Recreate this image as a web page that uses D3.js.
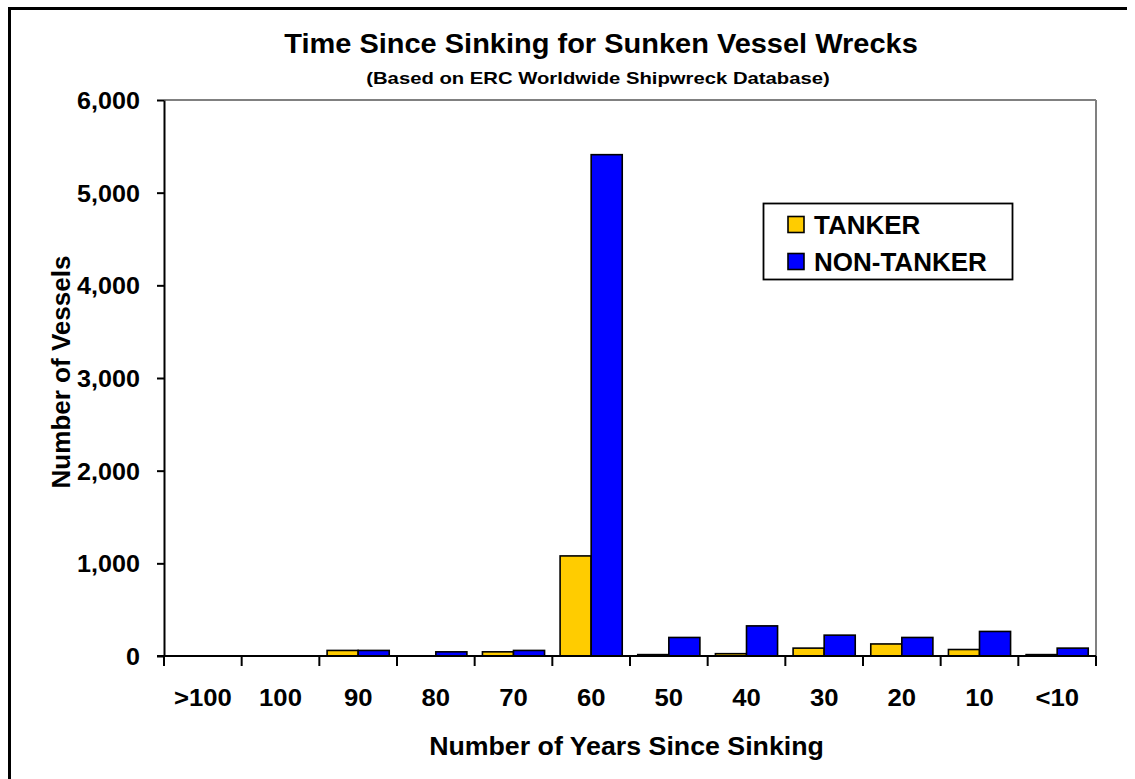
<!DOCTYPE html>
<html><head><meta charset="utf-8">
<script src="https://cdn.jsdelivr.net/npm/d3@7"></script>
<style>
html,body{margin:0;padding:0;background:#fff;}
text{font-family:"Liberation Sans",Arial,sans-serif;font-weight:bold;fill:#000;}
</style></head>
<body>
<svg id="chart" width="1135" height="779"></svg>
<script>
const categories = [">100","100","90","80","70","60","50","40","30","20","10","<10"];
const tanker =    [0, 0, 60, 0, 45, 1080, 15, 25, 85, 130, 70, 15];
const nonTanker = [0, 0, 60, 45, 60, 5410, 200, 325, 225, 200, 265, 85];
const yTicks = [0,1000,2000,3000,4000,5000,6000];
const seriesNames = ["TANKER","NON-TANKER"];
const seriesColors = ["#FFCC00","#0000FF"];

const svg = d3.select("#chart");
const L = 164, R = 1096, T = 100, B = 656;

// outer frame (left and top visible)
svg.append("line").attr("x1",9.5).attr("x2",9.5).attr("y1",7).attr("y2",779).attr("stroke","#000").attr("stroke-width",3);
svg.append("line").attr("x1",8).attr("x2",1127).attr("y1",8.5).attr("y2",8.5).attr("stroke","#000").attr("stroke-width",3);

function txt(parent, x, y, s, size, anchor, target, rot, sxDefault){
  const t = parent.append("text").attr("font-size", size).attr("text-anchor", anchor||"start").text(s);
  const nat = t.node().getComputedTextLength();
  const sx = target ? target / nat : (sxDefault||1);
  t.attr("transform", `translate(${x},${y}) rotate(${rot||0}) scale(${sx},1)`);
  return t;
}

const x = d3.scaleBand().domain(categories).range([L, R]).paddingInner(0).paddingOuter(0);
const y = d3.scaleLinear().domain([0, 6000]).range([B, T]);
const bw = x.bandwidth() / 2.5;
const x1 = d3.scaleBand().domain(seriesNames).range([bw*0.25, bw*2.25]).padding(0);

// plot border top/right gray
svg.append("line").attr("x1",L).attr("x2",R).attr("y1",y(6000)).attr("y2",y(6000)).attr("stroke","#808080").attr("stroke-width",2);
svg.append("line").attr("x1",R).attr("x2",R).attr("y1",y(6000)).attr("y2",y(0)).attr("stroke","#808080").attr("stroke-width",2);

// bars
const rows = categories.map((c,i)=>({cat:c, vals:[tanker[i], nonTanker[i]]}));
const g = svg.append("g");
rows.forEach(r=>{
  r.vals.forEach((v,j)=>{
    if(v<=0) return;
    g.append("rect")
      .attr("x", x(r.cat) + x1(seriesNames[j]))
      .attr("y", y(v))
      .attr("width", x1.bandwidth())
      .attr("height", y(0) - y(v))
      .attr("fill", seriesColors[j])
      .attr("stroke", "#000").attr("stroke-width", 1.6);
  });
});

// y axis
const yAxis = svg.append("g").attr("transform",`translate(${L},0)`)
  .call(d3.axisLeft(y).tickValues(yTicks).tickFormat(d3.format(",")).tickSize(7).tickSizeOuter(0));
yAxis.select(".domain").attr("stroke","#000").attr("stroke-width",2);
yAxis.selectAll(".tick line").attr("stroke","#000").attr("stroke-width",2);
const ysx = 1.07;
yAxis.selectAll(".tick text").attr("font-size",23.5).attr("font-family",null)
  .attr("x", -24/ysx).attr("dy","0.36em").attr("transform",`scale(${ysx},1)`);

// x axis baseline
svg.append("line").attr("x1",L-7).attr("x2",R).attr("y1",B).attr("y2",B).attr("stroke","#000").attr("stroke-width",2);
const bounds = categories.map(c=>x(c)).concat([x(categories[categories.length-1]) + x.bandwidth()]);
svg.append("g").selectAll("line").data(bounds).join("line")
  .attr("x1",d=>d).attr("x2",d=>d).attr("y1",B).attr("y2",B+10).attr("stroke","#000").attr("stroke-width",2);
const xsx = 1.07;
categories.forEach(c=>{
  txt(svg, x(c)+x.bandwidth()/2, 706, c, 24, "middle", null, 0, xsx);
});

// titles
txt(svg, 601, 53, "Time Since Sinking for Sunken Vessel Wrecks", 27, "middle", 634);
txt(svg, 598, 84, "(Based on ERC Worldwide Shipwreck Database)", 16, "middle", 464);
txt(svg, 626.5, 755, "Number of Years Since Sinking", 25, "middle", 395);
txt(svg, 70, 372, "Number of Vessels", 25, "middle", 233, -90);

// legend
const lg = svg.append("g");
lg.append("rect").attr("x",763.5).attr("y",203.5).attr("width",249).attr("height",76)
  .attr("fill","#fff").attr("stroke","#000").attr("stroke-width",1.8);
const ly = [224.5, 261.5];
seriesNames.forEach((s,j)=>{
  lg.append("rect").attr("x",788).attr("y",ly[j]-8).attr("width",16).attr("height",16)
    .attr("fill",seriesColors[j]).attr("stroke","#000").attr("stroke-width",1.6);
  txt(lg, 814, ly[j]+9.5, s, 25, "start", null, 0, 1.04);
});
</script>
</body></html>
